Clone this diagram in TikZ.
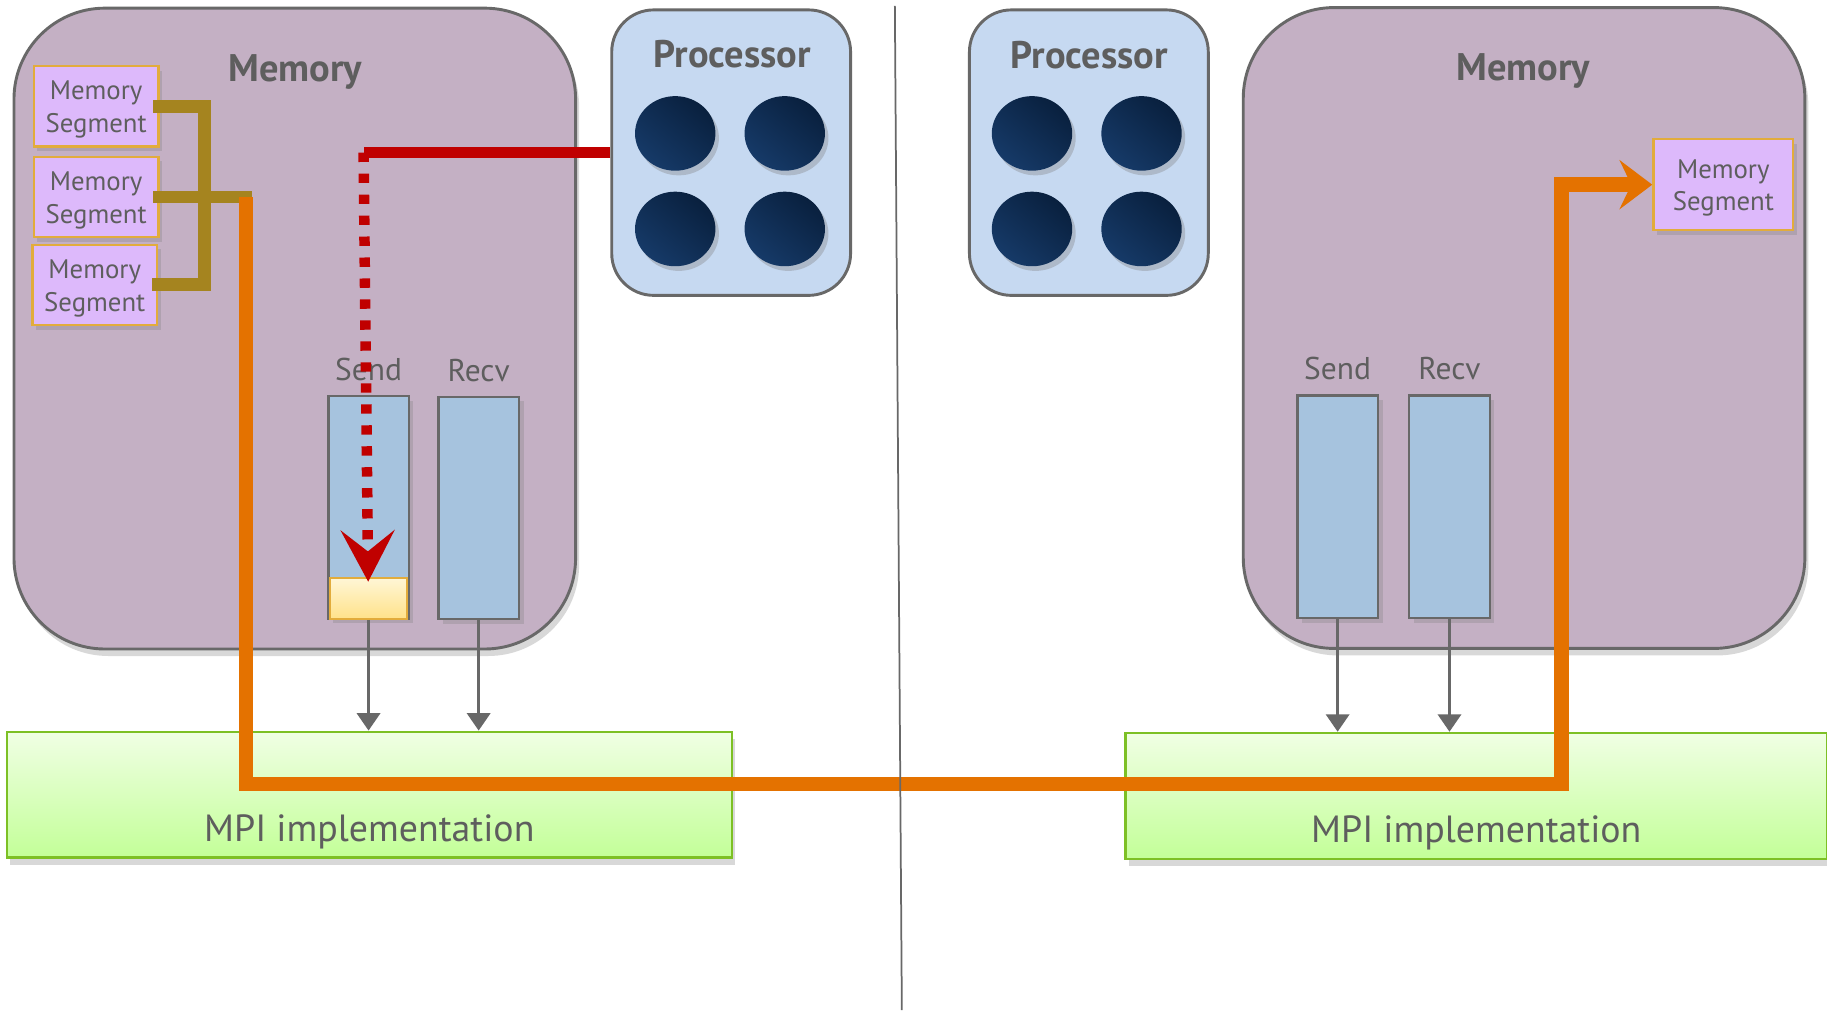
\documentclass[tikz,border=0pt]{standalone}
\usepackage{fontspec}
\setmainfont{PT Sans}
\usetikzlibrary{shapes.geometric,arrows.meta,shadows}

\definecolor{memfill}{RGB}{196,176,196}
\definecolor{procfill}{RGB}{198,217,241}
\definecolor{segfill}{RGB}{221,185,251}
\definecolor{segedge}{RGB}{226,172,60}
\definecolor{bufblue}{RGB}{166,195,222}
\definecolor{edgegray}{RGB}{104,104,104}
\definecolor{textgray}{RGB}{94,94,94}
\definecolor{coredark}{RGB}{9,32,62}
\definecolor{corelight}{RGB}{22,58,104}
\definecolor{goldcol}{RGB}{165,132,31}
\definecolor{orangecol}{RGB}{228,114,0}
\definecolor{redcol}{RGB}{192,0,0}
\definecolor{mpitop}{RGB}{240,255,228}
\definecolor{mpibot}{RGB}{195,255,152}
\definecolor{mpiedge}{RGB}{125,192,37}
\definecolor{msgtop}{RGB}{255,246,214}
\definecolor{msgbot}{RGB}{255,226,138}

\tikzset{
  membox/.style={draw=edgegray, line width=2.5pt, fill=memfill, rounded corners=78pt,
    minimum width=482pt, minimum height=550pt,
    drop shadow={shadow xshift=3pt, shadow yshift=-6pt, opacity=0.3}},
  procbox/.style={draw=edgegray, line width=2.5pt, fill=procfill, rounded corners=36pt,
    minimum width=205pt, minimum height=245pt},
  core/.style={ellipse, inner sep=0pt, minimum width=69pt, minimum height=64pt,
    top color=coredark, bottom color=corelight, shading angle=-40,
    drop shadow={shadow xshift=3pt, shadow yshift=-4pt, opacity=0.35}},
  segbox/.style={draw=segedge, line width=2pt, fill=segfill, align=center,
    minimum width=107pt, minimum height=69pt, inner sep=0pt, text=textgray,
    font=\fontsize{23}{28}\selectfont, text height=50pt,
    drop shadow={shadow xshift=3pt, shadow yshift=-4pt, opacity=0.3}},
  bufbox/.style={draw=edgegray, line width=2pt, fill=bufblue,
    minimum width=69pt, minimum height=191pt,
    drop shadow={shadow xshift=4pt, shadow yshift=-4pt, opacity=0.3}},
  msgbox/.style={draw=segedge, line width=1.5pt, top color=msgtop, bottom color=msgbot,
    minimum width=66pt, minimum height=35pt},
  mpibox/.style={draw=mpiedge, line width=2pt, top color=mpitop, bottom color=mpibot,
    minimum width=622pt, minimum height=108pt,
    drop shadow={shadow xshift=3pt, shadow yshift=-6pt, opacity=0.3}},
  title/.style={text=textgray, font=\bfseries\fontsize{33}{38}\selectfont},
  lbl/.style={text=textgray, font=\fontsize{27}{32}\selectfont},
  mpitext/.style={text=textgray, font=\fontsize{32.5}{38}\selectfont},
  feed/.style={draw=edgegray, line width=2.5pt, -{Triangle[length=15pt,width=20pt]}},
  seglink/.style={draw=goldcol, line width=11pt, line cap=rect},
  ctrlline/.style={draw=redcol, line width=9pt},
  ctrldash/.style={draw=redcol, line width=9pt, dash pattern=on 8pt off 10pt,
    -{Stealth[length=44pt,width=46pt,inset=18pt]}},
  msgline/.style={draw=orangecol, line width=12.5pt, line join=miter,
    -{Stealth[length=28pt,width=42pt,inset=10pt]}}
}

\begin{document}
\begin{tikzpicture}[x=1pt, y=-1pt]
\useasboundingbox[fill=white] (0,0) rectangle (1568,867);

% Memories
\node[membox] (memL) at (253,282) {};
\node[membox] (memR) at (1308,281.5) {};
\node[title, anchor=base] (memLtitle) at (253.5,70) {Memory};
\node[title, anchor=base] (memRtitle) at (1307.5,68.7) {Memory};

% Memory segments
\node[segbox] (segL1) at (82.5,91.2) {Memory\\Segment};
\node[segbox] (segL2) at (82.5,169) {Memory\\Segment};
\node[segbox] (segL3) at (81.3,244.5) {Memory\\Segment};
\node[segbox, minimum width=120pt, minimum height=78pt] (segR) at (1479,158.5) {Memory\\Segment};

% Send / Recv buffers
\node[bufbox] (sendL) at (316.3,435.5) {};
\node[bufbox] (recvL) at (410.8,436) {};
\node[bufbox] (sendR) at (1148,435) {};
\node[bufbox] (recvR) at (1244,435) {};
\node[msgbox] (msgL) at (316,513.5) {};
\foreach \b/\t in {sendL/Send, recvL/Recv, sendR/Send, recvR/Recv}
  \node[lbl, anchor=base] (\b lbl) at ([yshift=12.5pt]\b.north) {\t};

% Segment bracket
\coordinate (ojoin) at (211,169);
\draw[seglink] (segL1.east) -- ++(38.5,0) |- (segL3.east);
\draw[seglink] (segL2.east) -- (ojoin);

% Processors
\node[procbox] (procL) at (627.5,131) {};
\node[procbox] (procR) at (934.5,131) {};
\node[title, anchor=base] (procLtitle) at (628.5,57.8) {Processor};
\node[title, anchor=base] (procRtitle) at (935,58.7) {Processor};
\foreach \p/\cx in {L/579.5, R/885.7} {
  \foreach \r/\cy in {1/114.5, 2/196.5} {
    \node[core] (core\p\r-1) at (\cx,\cy) {};
    \node[core] (core\p\r-2) at (\cx+94,\cy) {};
  }
}

% Processor writes into send buffer
\coordinate (redturn) at (312,131);
\draw[ctrlline] (procL.west) -- (redturn);
\draw[ctrldash] (redturn) -- ([yshift=-4pt]msgL.north);

% MPI layer
\node[mpibox] (mpiL) at (317,682) {};
\node[mpibox, minimum width=602pt] (mpiR) at (1267,683) {};
\node[mpitext, anchor=base] (mpiLtext) at ([yshift=15pt]mpiL.south) {MPI implementation};
\node[mpitext, anchor=base] (mpiRtext) at ([yshift=15pt]mpiR.south) {MPI implementation};
\foreach \b/\m in {sendL/mpiL, recvL/mpiL, sendR/mpiR, recvR/mpiR}
  \draw[feed] (\b.south) -- (\b.south |- \m.north);

% Message path
\coordinate (obottom) at (211,673);
\coordinate (oright) at (1340,673);
\draw[msgline] (ojoin) -- (obottom) -- (oright) |- (segR.west);

% Divider
\coordinate (divtop) at (768,5);
\coordinate (divbot) at (774,867);
\draw[line width=1.5pt, edgegray] (divtop) -- (divbot);

\end{tikzpicture}
\end{document}
